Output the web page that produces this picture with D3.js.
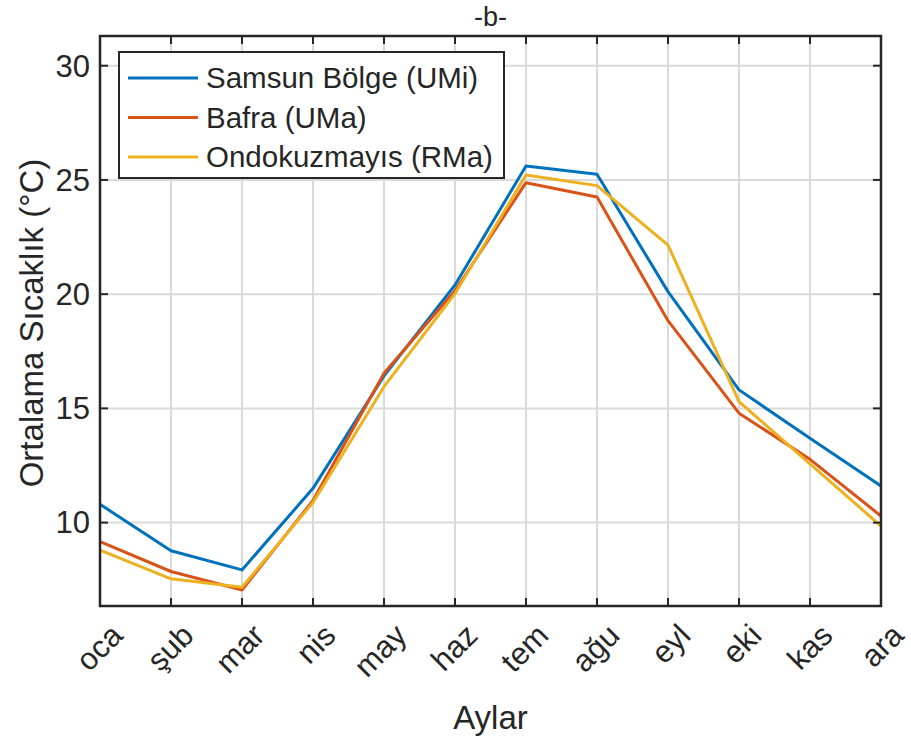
<!DOCTYPE html>
<html lang="tr">
<head>
<meta charset="utf-8">
<title>-b-</title>
<script src="https://cdn.jsdelivr.net/npm/d3@7"></script>
<style>
  body { margin: 0; background: #fff; }
  text { font-family: "Liberation Sans", Arial, sans-serif; fill: #262626; }
</style>
</head>
<body>
<script>
// months on the x axis
var months = ["oca", "şub", "mar", "nis", "may", "haz", "tem", "ağu", "eyl", "eki", "kas", "ara"];
var yTicks = [10, 15, 20, 25, 30];

// monthly mean temperatures
var samsun = [10.8, 8.77, 7.93, 11.5, 16.42, 20.4, 25.61, 25.25, 20.11, 15.81, 13.69, 11.6];
var bafra = [9.17, 7.86, 7.05, 10.97, 16.54, 20.15, 24.88, 24.25, 18.84, 14.79, 12.77, 10.29];
var ondokuz = [8.8, 7.54, 7.17, 10.88, 15.95, 20.02, 25.22, 24.75, 22.15, 15.3, 12.57, 9.85];

var seriesNames = ["Samsun Bölge (UMi)", "Bafra (UMa)", "Ondokuzmayıs (RMa)"];
var colors = ["#0072BD", "#D95319", "#EDB120"];

var w = 911, h = 745;
// plot box (window.top is read-only, so own names)
var pL = 100, pR = 881, pT = 36, pB = 606;

var svg = d3.select("body").append("svg")
  .attr("width", w)
  .attr("height", h);

var x = d3.scalePoint()
  .domain(months)
  .range([pL, pR]);

var y = d3.scaleLinear()
  .domain([6.35, 31.3])
  .range([pB, pT]);

// grid
var grid = svg.append("g");
grid.selectAll(".gx").data(months).enter().append("line")
  .attr("x1", d => x(d)).attr("x2", d => x(d))
  .attr("y1", pT).attr("y2", pB)
  .attr("stroke", "#dadada").attr("stroke-width", 2);
grid.selectAll(".gy").data(yTicks).enter().append("line")
  .attr("x1", pL).attr("x2", pR)
  .attr("y1", d => y(d)).attr("y2", d => y(d))
  .attr("stroke", "#dadada").attr("stroke-width", 2);

// lines
var line = d3.line()
  .x((d, i) => x(months[i]))
  .y(d => y(d));

[samsun, bafra, ondokuz].forEach(function(s, i) {
  svg.append("path")
    .datum(s)
    .attr("d", line)
    .attr("fill", "none")
    .attr("stroke", colors[i])
    .attr("stroke-width", 3)
    .attr("stroke-linejoin", "round");
});

// inward ticks on all four sides
var tl = 8;
var ticks = svg.append("g").attr("stroke", "#262626").attr("stroke-width", 2);
months.forEach(function(m) {
  ticks.append("line").attr("x1", x(m)).attr("x2", x(m)).attr("y1", pB).attr("y2", pB - tl);
  ticks.append("line").attr("x1", x(m)).attr("x2", x(m)).attr("y1", pT).attr("y2", pT + tl);
});
yTicks.forEach(function(t) {
  ticks.append("line").attr("x1", pL).attr("x2", pL + tl).attr("y1", y(t)).attr("y2", y(t));
  ticks.append("line").attr("x1", pR).attr("x2", pR - tl).attr("y1", y(t)).attr("y2", y(t));
});

// axes box
svg.append("rect")
  .attr("x", pL).attr("y", pT)
  .attr("width", pR - pL).attr("height", pB - pT)
  .attr("fill", "none").attr("stroke", "#262626").attr("stroke-width", 2.5);

// tick labels
svg.selectAll(".yl").data(yTicks).enter().append("text")
  .attr("x", pL - 10).attr("y", d => y(d))
  .attr("dy", "0.35em")
  .attr("text-anchor", "end")
  .style("font-size", "31px")
  .text(d => d);

svg.selectAll(".xl").data(months).enter().append("text")
  .attr("transform", d => "translate(" + (x(d) + 9) + "," + (pB + 16) + ") rotate(-45)")
  .attr("dy", "0.7em")
  .attr("text-anchor", "end")
  .style("font-size", "31px")
  .text(d => d);

// axis labels and title
svg.append("text")
  .attr("x", (pL + pR) / 2).attr("y", 729)
  .attr("text-anchor", "middle")
  .style("font-size", "33px")
  .text("Aylar");

svg.append("text")
  .attr("transform", "translate(31," + ((pT + pB) / 2 + 2) + ") rotate(-90)")
  .attr("dy", "0.35em")
  .attr("text-anchor", "middle")
  .style("font-size", "33px")
  .text("Ortalama Sıcaklık (°C)");

svg.append("text")
  .attr("x", (pL + pR) / 2).attr("y", 26)
  .attr("text-anchor", "middle")
  .style("font-size", "27px")
  .text("-b-");

// legend
var lg = svg.append("g").attr("transform", "translate(119,52)");
lg.append("rect")
  .attr("width", 385).attr("height", 126)
  .attr("fill", "#fff").attr("stroke", "#262626").attr("stroke-width", 2);
seriesNames.forEach(function(n, i) {
  var yy = 26 + i * 39.5;
  lg.append("line")
    .attr("x1", 9).attr("x2", 79).attr("y1", yy).attr("y2", yy)
    .attr("stroke", colors[i]).attr("stroke-width", 3);
  lg.append("text")
    .attr("x", 87).attr("y", yy)
    .attr("dy", "0.35em")
    .style("font-size", "29.5px")
    .text(n);
});
</script>
</body>
</html>
